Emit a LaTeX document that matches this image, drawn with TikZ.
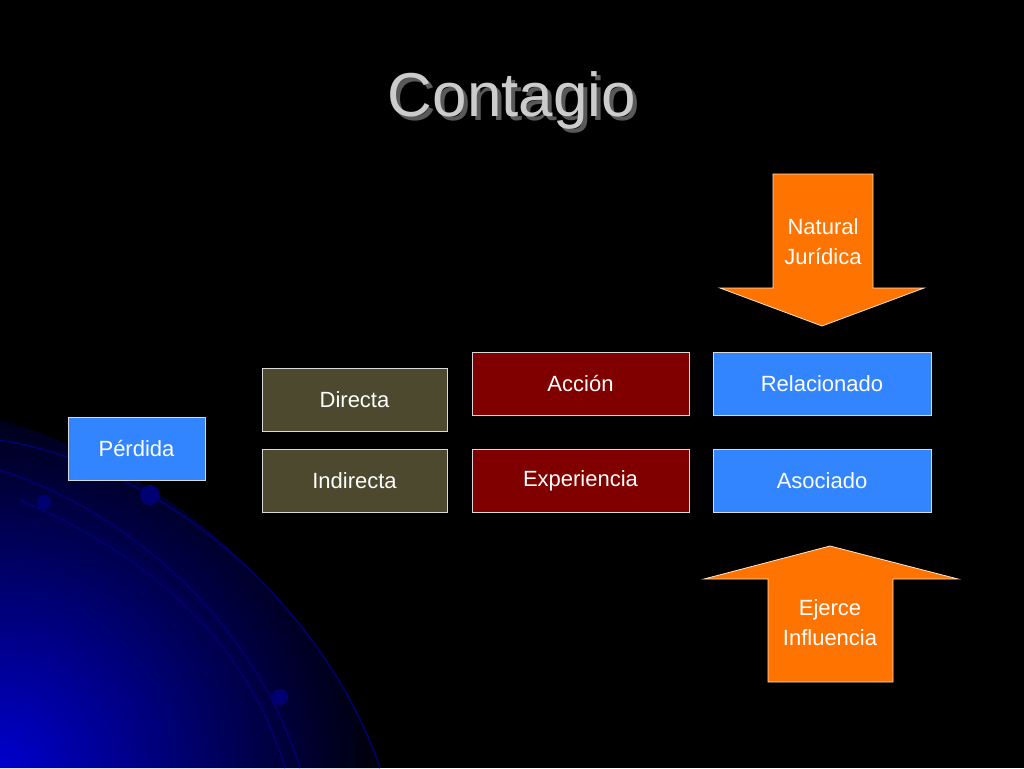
\documentclass[tikz,border=0pt]{standalone}
\usepackage{fontspec}
\setmainfont{Liberation Sans}
\begin{document}
\begin{tikzpicture}[x=1pt,y=-1pt,
  box/.style={draw=white!85!black,line width=0.8pt,minimum width=#1,minimum height=63pt,inner sep=0pt,font=\fontsize{22}{26}\selectfont,text=white},
  box/.default=185pt,
  arr/.style={fill=orange!90!red,draw=white!80!orange,line width=0.8pt},
  curve/.style={draw=blue!45!black,line width=1.5pt},
  dot/.style={fill=blue!45!black}]
\fill[black] (0,0) rectangle (1024,768);
\useasboundingbox (0,0) rectangle (1024,768);
\begin{scope}
\clip (0,420) .. controls (180,470) and (330,620) .. (380,768) -- (0,768) -- cycle;
\shade[inner color=blue!80!black,outer color=black] (0,768) circle (400);
\end{scope}
\draw[curve] (0,440) .. controls (180,470) and (330,620) .. (380,768);
\draw[curve] (0,470) .. controls (150,520) and (260,640) .. (300,768);
\draw[curve] (20,500) .. controls (160,560) and (250,650) .. (285,768);
\fill[dot] (44,502) circle (7);
\fill[dot] (150,495) circle (10);
\fill[dot] (280,697) circle (8);
\node[font=\fontsize{62}{70}\selectfont,text=black!65] at (516,104) {Contagio};
\node[font=\fontsize{62}{70}\selectfont,text=white!80!black] (title) at (512,100) {Contagio};
\node[box=137pt,fill=blue!60!cyan!80] (perdida) at (136.5,448.5) {Pérdida};
\node[box,fill=olive!40!black] (directa) at (354.5,400) {Directa};
\node[box,fill=olive!40!black] (indirecta) at (354.5,480.5) {Indirecta};
\node[box=217pt,fill=red!50!black] (accion) at (580.5,383.5) {Acción};
\node[box=217pt,fill=red!50!black] (experiencia) at (580.5,480.5) {Experiencia};
\node[box=218pt,fill=blue!60!cyan!80] (relacionado) at (822,383.5) {Relacionado};
\node[box=218pt,fill=blue!60!cyan!80] (asociado) at (822,480.5) {Asociado};
\draw[arr] (773,174) -- (873,174) -- (873,288) -- (924,288) -- (822,326) -- (720,288) -- (773,288) -- cycle;
\node[text=white,align=center,font=\fontsize{22}{30}\selectfont] (natural) at (823,242) {Natural\\Jurídica};
\draw[arr] (830,546) -- (958,579) -- (893,579) -- (893,682) -- (768,682) -- (768,579) -- (704,579) -- cycle;
\node[text=white,align=center,font=\fontsize{22}{30}\selectfont] (ejerce) at (830,623) {Ejerce\\Influencia};
\end{tikzpicture}
\end{document}
